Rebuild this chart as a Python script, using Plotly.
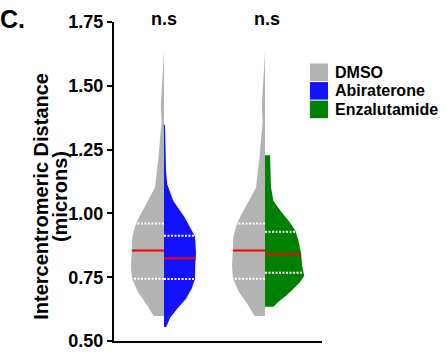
import numpy as np
import plotly.graph_objects as go

# ---------------- data ----------------
groups = ["Abiraterone", "Enzalutamide"]          # comparison groups (each split vs DMSO)
legend_labels = ["DMSO", "Abiraterone", "Enzalutamide"]
colors = {"DMSO": "#B3B3B3", "Abiraterone": "#1212FF", "Enzalutamide": "#008000"}

# kernel-density outlines: value levels (microns) and relative density
dmso_y = [0.598, 0.602, 0.641, 0.691, 0.744, 0.794, 0.859, 0.909, 0.948, 0.986, 1.024,
          1.063, 1.101, 1.178, 1.216, 1.293, 1.358, 1.420, 1.485, 1.562, 1.635]
dmso_d = [0.25, 0.275, 0.425, 0.65, 0.80, 0.825, 0.80, 0.79, 0.725, 0.625, 0.49,
          0.35, 0.225, 0.17, 0.14, 0.10, 0.06, 0.08, 0.06, 0.03, 0.01]

abi_y = [0.555, 0.564, 0.590, 0.628, 0.666, 0.705, 0.743, 0.794, 0.845, 0.909, 0.935,
         0.986, 1.050, 1.114, 1.167, 1.255, 1.347]
abi_d = [0.05, 0.08, 0.15, 0.34, 0.55, 0.69, 0.775, 0.78, 0.80, 0.775, 0.69,
         0.51, 0.23, 0.08, 0.05, 0.04, 0.025]

enz_y = [0.634, 0.653, 0.679, 0.705, 0.730, 0.756, 0.794, 0.845, 0.897, 0.935, 0.973,
         1.012, 1.050, 1.101, 1.178, 1.228]
enz_d = [0.21, 0.33, 0.54, 0.71, 0.875, 0.98, 0.93, 0.90, 0.83, 0.75, 0.58,
         0.375, 0.21, 0.15, 0.14, 0.125]

# quartiles [Q1, median, Q3]
dmso_q = [0.744, 0.855, 0.960]
abi_q = [0.743, 0.824, 0.912]
enz_q = [0.767, 0.840, 0.928]

sig_labels = ["n.s", "n.s"]
y_ticks = [0.50, 0.75, 1.00, 1.25, 1.50, 1.75]
y_title_lines = ["Intercentromeric Distance", "(microns)"]

# ---------------- drawing ----------------
WSCALE = 0.396   # x-axis units per density unit
FONT = "Liberation Sans, Arial, sans-serif"

fig = go.Figure()


def half_violin(center, ys, ds, side, color):
    ys = np.asarray(ys, float)
    ds = np.asarray(ds, float) * WSCALE * side
    xs = np.concatenate([[center], center + ds, [center]])
    yy = np.concatenate([[ys[0]], ys, [ys[-1]]])
    fig.add_trace(go.Scatter(x=xs, y=yy, mode="lines", fill="toself", fillcolor=color,
                             line=dict(width=0, color=color), hoverinfo="skip",
                             showlegend=False))


def quart_lines(center, ys, ds, q, side):
    for i, val in enumerate(q):
        w = np.interp(val, ys, ds) * WSCALE * side
        if i == 1:
            line = dict(color="#FF0000", width=2)
        else:
            line = dict(color="white", width=2, dash="2px,1.5px")
        fig.add_trace(go.Scatter(x=[center, center + w], y=[val, val], mode="lines",
                                 line=line, hoverinfo="skip", showlegend=False))


sets = {"Abiraterone": (abi_y, abi_d, abi_q), "Enzalutamide": (enz_y, enz_d, enz_q)}
for i, g in enumerate(groups):
    c = i + 1
    gy, gd, gq = sets[g]
    half_violin(c, dmso_y, dmso_d, -1, colors["DMSO"])
    half_violin(c, gy, gd, +1, colors[g])
    quart_lines(c, dmso_y, dmso_d, dmso_q, -1)
    quart_lines(c, gy, gd, gq, +1)

annotations = []
shapes = []
# significance labels
for i, s in enumerate(sig_labels):
    annotations.append(dict(x=i + 1 + 0.02 * i, y=1.009, xref="x", yref="paper", text=s,
                            showarrow=False, font=dict(family=FONT, size=18, color="black",
                                                       weight="bold"),
                            xanchor="center", yanchor="middle"))

# legend (manual)
for i, lab in enumerate(legend_labels):
    y0 = 0.870 - i * 0.0583
    shapes.append(dict(type="rect", xref="paper", yref="paper", x0=0.942, x1=1.029,
                       y0=y0 - 0.055, y1=y0, fillcolor=colors[lab], line=dict(width=0)))
    annotations.append(dict(x=1.053, y=y0 - 0.0275, xref="paper", yref="paper", text=lab,
                            showarrow=False, xanchor="left", yanchor="middle",
                            font=dict(family=FONT, size=16, color="black", weight="bold")))

# y-axis title (two lines placed separately for tight line spacing)
for i, t in enumerate(y_title_lines):
    annotations.append(dict(x=-0.348 + i * 0.088, y=0.454, xref="paper", yref="paper",
                            text=t, textangle=-90, showarrow=False,
                            xanchor="center", yanchor="middle",
                            font=dict(family=FONT, size=20, color="black", weight="bold")))
# panel letter
annotations.append(dict(x=-0.49, y=1.008, xref="paper", yref="paper", text="C.",
                        showarrow=False, xanchor="center", yanchor="middle",
                        font=dict(family=FONT, size=25, color="black", weight="bold")))

fig.update_layout(
    width=447, height=363,
    margin=dict(l=114, r=125, t=21, b=16),
    plot_bgcolor="white", paper_bgcolor="white",
    annotations=annotations, shapes=shapes, showlegend=False,
    xaxis=dict(range=[0.505, 2.564], showticklabels=False, ticks="", showgrid=False,
               zeroline=False, showline=True, linecolor="black", linewidth=2),
    yaxis=dict(range=[0.5, 1.75], tickvals=y_ticks, tickformat=".2f", ticks="outside",
               ticklen=5, tickwidth=2, tickcolor="black", showgrid=False, zeroline=False,
               showline=True, linecolor="black", linewidth=2,
               tickfont=dict(family=FONT, size=18, color="black", weight="bold")),
)

fig.write_html("out.html")
